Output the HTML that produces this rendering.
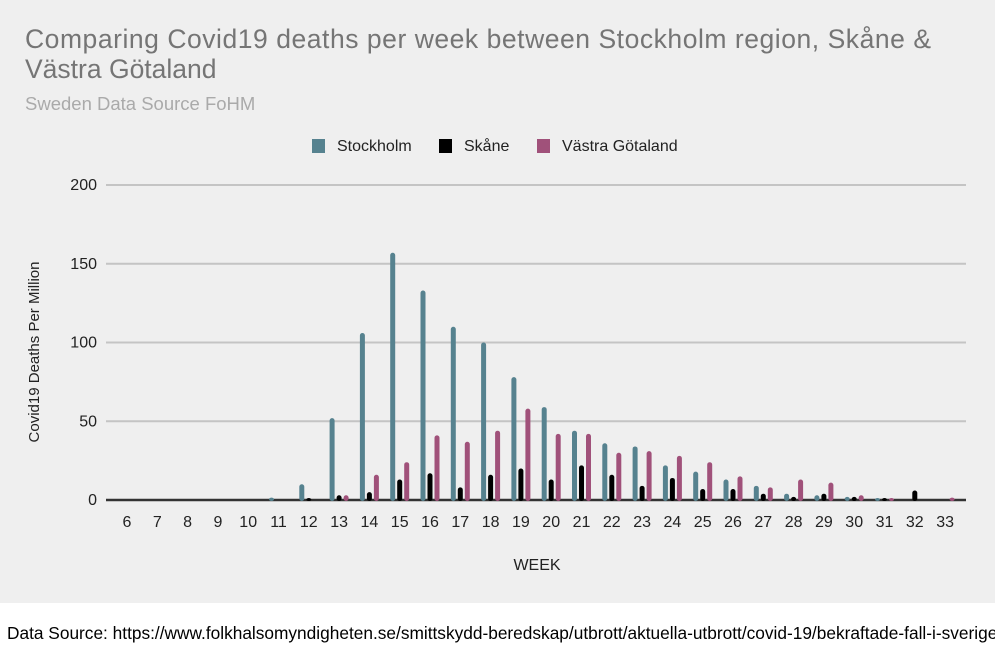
<!DOCTYPE html>
<html><head><meta charset="utf-8"><style>
body{margin:0;width:995px;height:655px;background:#fff;font-family:"Liberation Sans",sans-serif;overflow:hidden}
#card{position:absolute;left:0;top:0;width:995px;height:603px;background:#efefef}
</style></head><body>
<div id="card">
<svg width="995" height="603" id="svg">
<text x="25" y="48" font-size="26.5" fill="#757575" textLength="906">Comparing Covid19 deaths per week between Stockholm region, Skåne &amp;</text>
<text x="25" y="78" font-size="26.5" fill="#757575">Västra Götaland</text>
<text x="25" y="110" font-size="18.5" fill="#aaaaaa">Sweden Data Source FoHM</text>
<g font-size="16" fill="#222">
<rect x="312" y="139" width="13" height="14" fill="#56828f"/><text x="337" y="151">Stockholm</text>
<rect x="439" y="139" width="13" height="14" fill="#000"/><text x="464" y="151">Skåne</text>
<rect x="537" y="139" width="13" height="14" fill="#a0517a"/><text x="562" y="151">Västra Götaland</text>
</g>
<g id="grid"></g><g id="bars"></g><g id="xl"></g>
<text transform="translate(39,352) rotate(-90)" text-anchor="middle" font-size="15" fill="#222">Covid19 Deaths Per Million</text>
<text x="537" y="570" text-anchor="middle" font-size="16" fill="#222">WEEK</text>
</svg></div>
<div style="position:absolute;left:7px;top:623px;font-size:17.3px;white-space:nowrap;color:#000">Data Source: https://www.folkhalsomyndigheten.se/smittskydd-beredskap/utbrott/aktuella-utbrott/covid-19/bekraftade-fall-i-sverige/</div>
<script>
const weeks=[6,7,8,9,10,11,12,13,14,15,16,17,18,19,20,21,22,23,24,25,26,27,28,29,30,31,32,33];
const stockholm=[0,0,0,0,0,1.5,10,52,106,157,133,110,100,78,59,44,36,34,22,18,13,9,4,3,2,1,0,0];
const skane=[0,0,0,0,0,0,0.5,3,5,13,17,8,16,20,13,22,16,9,14,7,7,4,2,4,2,0.5,6,0];
const vastra=[0,0,0,0,0,0,0,3,16,24,41,37,44,58,42,42,30,31,28,24,15,8,13,11,3,0.5,0,1.5];
const yTicks=[0,50,100,150,200];
const NS="http://www.w3.org/2000/svg";
const y=v=>500-v*1.575;
const x=i=>127+i*30.3;
function mk(t,a,p){const e=document.createElementNS(NS,t);for(const k in a)e.setAttribute(k,a[k]);p.appendChild(e);return e;}
const grid=document.getElementById('grid'),bars=document.getElementById('bars'),xl=document.getElementById('xl');
yTicks.forEach(t=>{
 const l=mk('line',{x1:106,x2:966,y1:y(t),y2:y(t),stroke:t?'#c4c4c4':'#333','stroke-width':t?2:2.5},grid);
 
 
 const tx=mk('text',{x:97,y:y(t)+5,'text-anchor':'end','font-size':16,fill:'#222'},grid);tx.textContent=t;
 
 
});
const series=[[stockholm,'#56828f',-7,'stockholm'],[skane,'#000',0,'skane'],[vastra,'#a0517a',7,'vastra']];
weeks.forEach((w,i)=>{
 series.forEach(([d,c,o,n])=>{
  const v=d[i];if(v<=0)return;
  const h=Math.max(v*1.575,2);
  const r=mk('rect',{x:x(i)+o-2.5,y:500-h,width:5,height:h+1,rx:2.5,fill:c},bars);
  
  
 });
 const t=mk('text',{x:x(i),y:527,'text-anchor':'middle','font-size':16,fill:'#222'},xl);t.textContent=w;
 
 
});
</script>
</body></html>
